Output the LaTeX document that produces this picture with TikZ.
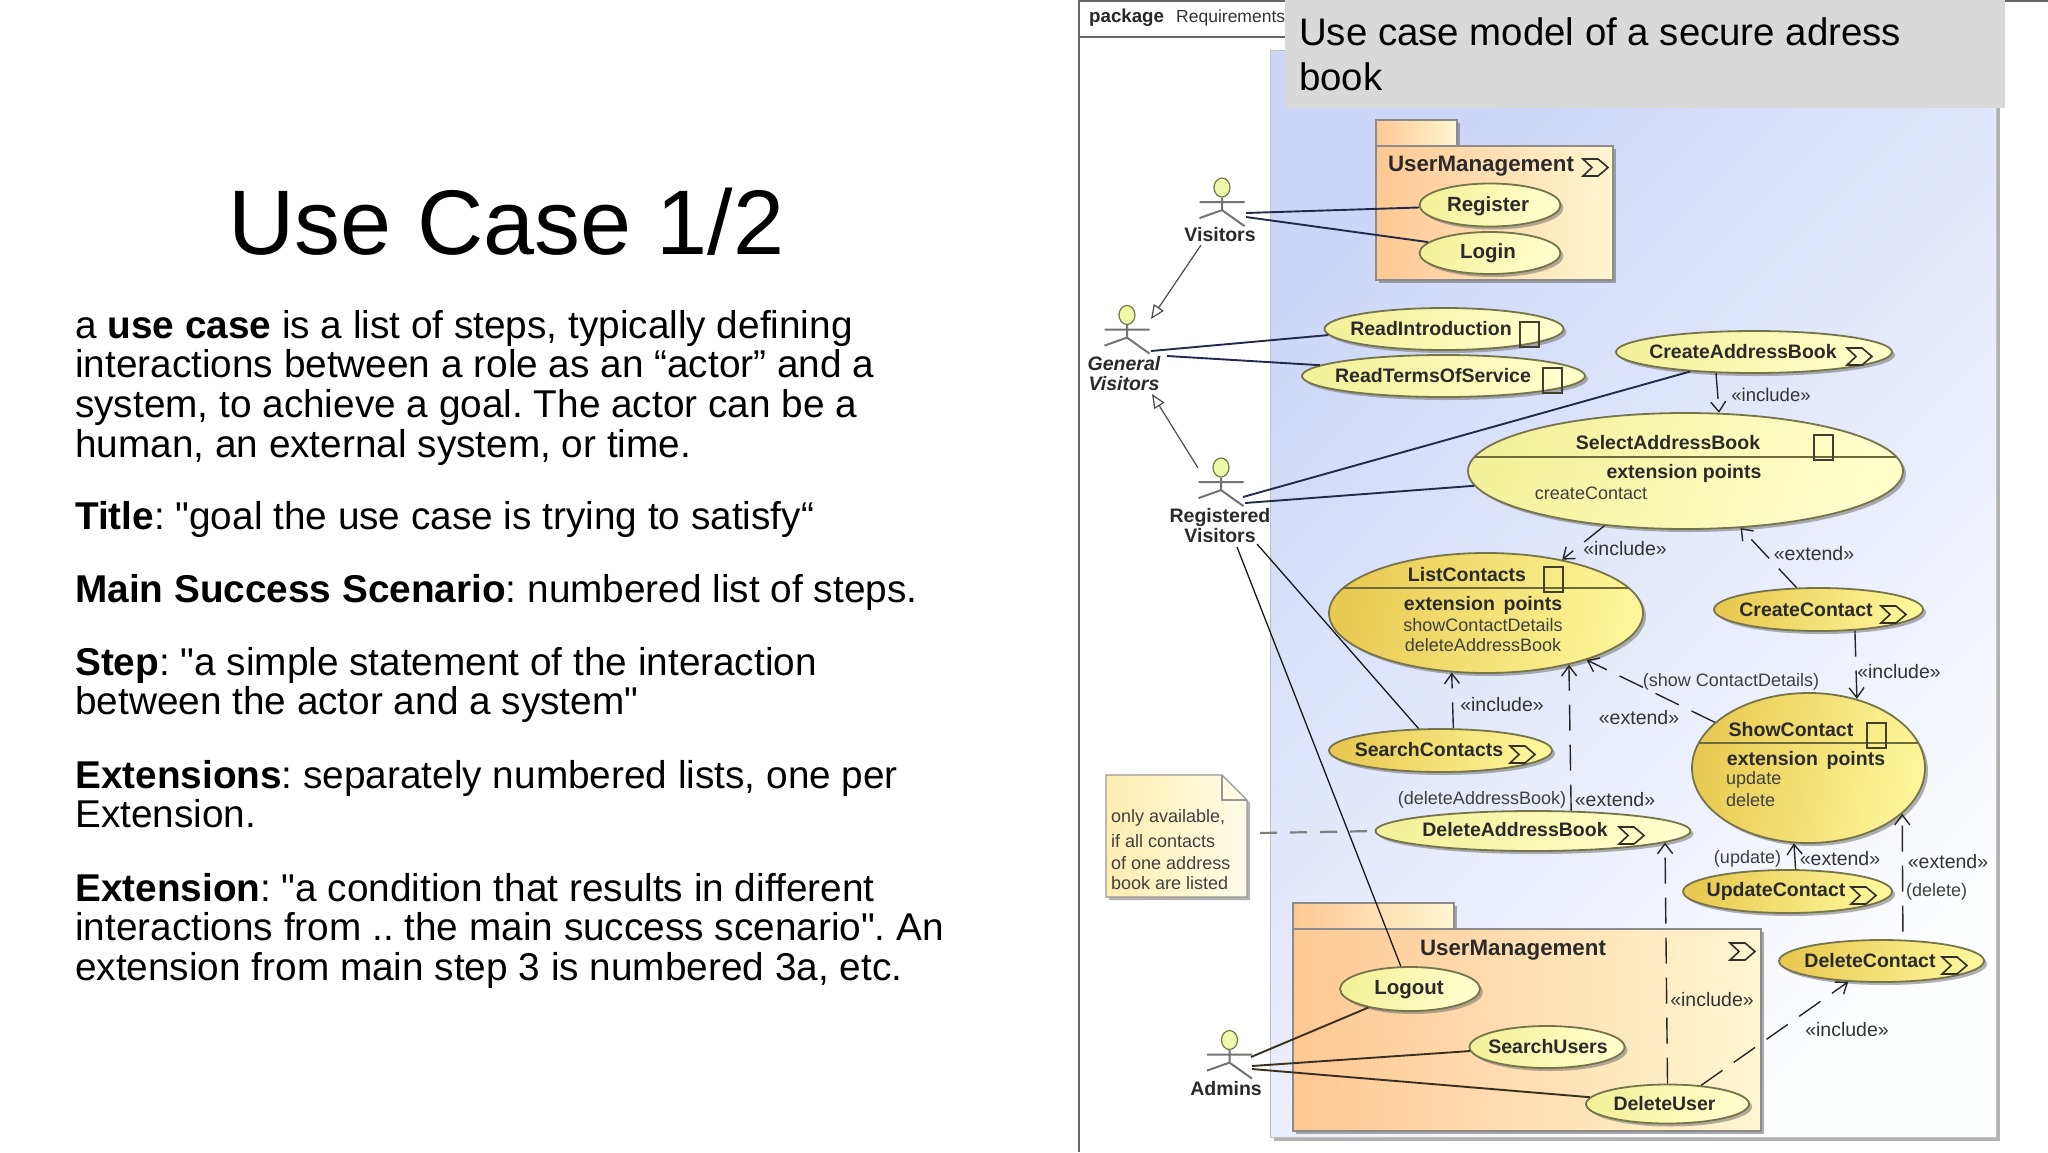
\documentclass[tikz,border=0pt]{standalone}
\usepackage{fontspec}
\setmainfont{Liberation Sans}[Ligatures=TeXOff]
\usetikzlibrary{shapes.geometric,arrows.meta,shadows}
\newcommand{\fs}[1]{\fontsize{#1}{#1}\selectfont}
\definecolor{lineblue}{HTML}{232B4A}
\definecolor{linebrown}{HTML}{3A3020}
\definecolor{inkgray}{HTML}{2A2A2A}
\definecolor{paleL}{HTML}{F3F29C}
\definecolor{paleR}{HTML}{FFFFCC}
\definecolor{goldL}{HTML}{E8CA52}
\definecolor{goldR}{HTML}{FFF79A}
\definecolor{edge}{HTML}{75744A}
\definecolor{divider}{HTML}{6E6B3A}
\definecolor{sysL}{HTML}{CDD6F8}
\definecolor{sysR}{HTML}{FCFDFF}
\definecolor{pkgL}{HTML}{FFC893}
\definecolor{pkgR}{HTML}{FFF6D2}
\definecolor{noteL}{HTML}{FFEDB0}
\definecolor{noteR}{HTML}{FFFDE8}
\newcommand{\chev}[2]{\draw[chevron] (#1,#2) -- ++(15,0) -- ++(10,8.5) -- ++(-10,8.5) -- ++(-15,0) -- ++(9,-8.5) -- cycle;}
\newcommand{\rectic}[2]{\draw[boxic] (#1,#2) rectangle ++(19,25);}
\newcommand{\actor}[3]{%
  \node[head] (#1) at (#2,#3) {};
  \draw[stick] (#1.south) -- ++(0,12.5) ++(-22.5,-8) -- ++(45,0) ++(-45,16) -- ++(22.5,-8) -- ++(22.5,16);}
\tikzset{
  x=1pt,y=-1pt,
  head/.style={ellipse,draw=edge,line width=1.2pt,fill=paleL!70!lime!60!white,minimum width=16pt,minimum height=19pt,inner sep=0pt},
  stick/.style={draw=black!55,line width=2pt},
  uc/.style={ellipse,draw=edge,line width=1.8pt,inner sep=0pt,left color=paleL,right color=paleR,shading angle=70,
    drop shadow={shadow xshift=3pt,shadow yshift=-3pt,fill=black!55,opacity=.55}},
  ucgold/.style={ellipse,draw=edge,line width=1.8pt,inner sep=0pt,left color=goldL,right color=goldR,shading angle=80,
    drop shadow={shadow xshift=3pt,shadow yshift=-3pt,fill=black!55,opacity=.55}},
  lab/.style={font=\fs{19.5}\bfseries,text=inkgray,inner sep=0pt},
  tag/.style={font=\fs{19.5},text=black!80,inner sep=0pt},
  small/.style={font=\fs{18},text=black!75,inner sep=0pt},
  chevron/.style={draw=black!85!olive,line width=1.6pt},
  boxic/.style={draw=black!70!olive,line width=1.5pt},
  assoc/.style={draw=lineblue,line width=1.9pt},
  assocb/.style={draw=linebrown,line width=1.9pt},
  thinline/.style={draw=black!90,line width=1.3pt},
  gen/.style={draw=black!70,line width=1.2pt,-{Triangle[open,fill=white,length=14pt,width=12pt]}},
  dep/.style={draw=black!85,line width=1.4pt,dash pattern=on 26pt off 14pt,-{Straight Barb[length=10pt,width=15pt]}},
  pkg/.style={draw=black!45,line width=1.5pt,left color=pkgL,right color=pkgR,
    drop shadow={shadow xshift=3pt,shadow yshift=-3pt,fill=black!60,opacity=.55}},
  divline/.style={draw=divider,line width=1.5pt},
  body/.style={font=\fontsize{38.75}{39.7}\selectfont\frenchspacing,align=left,anchor=north west,inner sep=0pt},
}
\begin{document}
\begin{tikzpicture}
\useasboundingbox (0,0) rectangle (2048,1152);
\fill[white] (0,0) rectangle (2048,1152);

% left column
\node[font=\fs{91.8},inner sep=0pt] (title) at (506.5,222) {Use Case 1/2};
\node[body] (p1) at (75,310) {a \textbf{use case} is a list of steps, typically defining\\interactions between a role as an “actor” and a\\system, to achieve a goal. The actor can be a\\human, an external system, or time.};
\node[body] (p2) at (75,501) {\textbf{Title}: "goal the use case is trying to satisfy“};
\node[body] (p3) at (75,574) {\textbf{Main Success Scenario}: numbered list of steps.};
\node[body] (p4) at (75,647) {\textbf{Step}: "a simple statement of the interaction\\between the actor and a system"};
\node[body] (p5) at (75,760) {\textbf{Extensions}: separately numbered lists, one per\\Extension.};
\node[body] (p6) at (75,873) {\textbf{Extension}: "a condition that results in different\\interactions from .. the main success scenario". An\\extension from main step 3 is numbered 3a, etc.};

% frame
\draw[black!60,line width=1.6pt] (1079,1152) -- (1079,1) -- (2048,1);
\draw[black!60,line width=2pt] (1079,37) -- (1285,37);
\node[font=\fs{18.7}\bfseries,text=black!85,anchor=west,inner sep=0pt] (pk1) at (1089,18) {package};
\node[font=\fs{17.5},text=black!80,anchor=west,inner sep=0pt] (pk2) at (1176,18) {Requirements};

% system boundary
\shade[left color=sysL,right color=sysR,shading angle=45,
  drop shadow={shadow xshift=4pt,shadow yshift=-4pt,fill=black!60,opacity=.5},draw=black!25,line width=1pt]
  (1270,50) rectangle (1996,1137);

% packages
\draw[pkg] (1376,120) rectangle (1457,146);
\draw[pkg] (1376,146) rectangle (1613,280);
\node[font=\fs{22.3}\bfseries,text=inkgray,inner sep=0pt] (pk3) at (1481,166) {UserManagement};
\chev{1583}{159}
\draw[pkg] (1293,903) rectangle (1454,929);
\draw[pkg] (1293,929) rectangle (1761,1131);
\node[font=\fs{22.3}\bfseries,text=inkgray,inner sep=0pt] (pk4) at (1513,950) {UserManagement};
\chev{1730}{943}

% note
\draw[draw=black!40,line width=1.3pt,left color=noteL,right color=noteR,
  drop shadow={shadow xshift=3pt,shadow yshift=-3pt,fill=black!60,opacity=.5}]
  (1106,775) -- (1222,775) -- (1247,800) -- (1247,897) -- (1106,897) -- cycle;
\draw[draw=black!40,line width=1.3pt] (1222,775) -- (1222,800) -- (1247,800);
\node[small,anchor=west] (n1) at (1111,818) {only available,};
\node[small,anchor=west] (n2) at (1111,841) {if all contacts};
\node[small,anchor=west] (n3) at (1111,863) {of one address};
\node[small,anchor=west] (n4) at (1111,883) {book are listed};
\coordinate (noteport) at (1260,833);

% use cases
\node[uc,minimum width=141pt,minimum height=43pt] (reg) at (1490,205) {};
\node[font=\fs{20.5}\bfseries,text=inkgray,inner sep=0pt] (regt) at (1488,206) {Register};
\node[uc,minimum width=141pt,minimum height=42pt] (log) at (1490,253) {};
\node[font=\fs{20.5}\bfseries,text=inkgray,inner sep=0pt] (logt) at (1488,253) {Login};
\node[uc,minimum width=239pt,minimum height=42pt] (ri) at (1444,329) {};
\node[lab] (rit) at (1431,329) {ReadIntroduction};
\rectic{1520}{322}
\node[uc,minimum width=283pt,minimum height=42pt] (rt) at (1443.5,376) {};
\node[lab] (rtt) at (1433,376) {ReadTermsOfService};
\rectic{1543}{368}
\node[uc,minimum width=276pt,minimum height=42pt] (cab) at (1754,352) {};
\node[lab] (cabt) at (1743,352) {CreateAddressBook};
\chev{1847}{348}

\node[uc,minimum width=435pt,minimum height=116pt] (sel) at (1685.5,471) {};
\draw[divline] (1475,457) -- (1896,457);
\node[lab] (selt) at (1668,443) {SelectAddressBook};
\node[lab] (sele) at (1684,473) {extension points};
\node[small] (selc) at (1591,493) {createContact};
\rectic{1814}{435}

\node[ucgold,minimum width=314pt,minimum height=120pt] (lc) at (1486,613) {};
\draw[divline] (1343,588) -- (1629,588);
\node[lab] (lct) at (1467,575) {ListContacts};
\node[lab] (lce) at (1483,605) {extension\, points};
\node[small] (lcs) at (1483,625) {showContactDetails};
\node[small] (lcd) at (1483,645) {deleteAddressBook};
\rectic{1544}{567}

\node[ucgold,minimum width=209pt,minimum height=43pt] (cc) at (1818.5,609.5) {};
\node[lab] (cct) at (1806,610) {CreateContact};
\chev{1881}{606}

\node[ucgold,minimum width=233pt,minimum height=150pt] (sc) at (1808.5,768) {};
\draw[divline] (1699,743) -- (1918,743);
\node[lab] (sct) at (1791,730) {ShowContact};
\node[lab] (sce) at (1806,760) {extension\, points};
\node[small,anchor=west] (scu) at (1726,780) {update};
\node[small,anchor=west] (scd) at (1726,800) {delete};
\rectic{1867}{723}

\node[ucgold,minimum width=223pt,minimum height=43pt] (sea) at (1440.5,750.5) {};
\node[lab] (seat) at (1429,750) {SearchContacts};
\chev{1510}{746}

\node[uc,minimum width=315pt,minimum height=40pt] (dab) at (1533,831) {};
\node[lab] (dabt) at (1515,830) {DeleteAddressBook};
\chev{1619}{827}

\node[ucgold,minimum width=209pt,minimum height=43pt] (up) at (1787.5,891.5) {};
\node[lab] (upt) at (1776,891) {UpdateContact};
\chev{1851}{887}

\node[ucgold,minimum width=205pt,minimum height=42pt] (dc) at (1881.5,961) {};
\node[lab] (dct) at (1870,961) {DeleteContact};
\chev{1942}{957}

\node[uc,minimum width=140pt,minimum height=44pt] (lo) at (1410,989) {};
\node[font=\fs{20.5}\bfseries,text=inkgray,inner sep=0pt] (lot) at (1409,990) {Logout};
\node[uc,minimum width=155pt,minimum height=42pt] (su) at (1547,1047) {};
\node[lab] (sut) at (1548,1047) {SearchUsers};
\node[uc,minimum width=163pt,minimum height=39pt] (du) at (1667.5,1104) {};
\node[lab] (dut) at (1664.5,1104) {DeleteUser};

% actors
\actor{vis}{1222}{187.5}
\node[lab] (vist) at (1220,235) {Visitors};
\actor{gv}{1127}{315}
\node[font=\fs{19.5}\bfseries\itshape,text=inkgray,inner sep=0pt] (gvt1) at (1124,364) {General};
\node[font=\fs{19.5}\bfseries\itshape,text=inkgray,inner sep=0pt] (gvt2) at (1124,384) {Visitors};
\actor{rv}{1221}{467.5}
\node[lab] (rvt1) at (1220,517) {Registered};
\node[lab] (rvt2) at (1220,536) {Visitors};
\actor{ad}{1229.5}{1040}
\node[lab] (adt) at (1226,1089) {Admins};

\coordinate (vis1) at (1246,213);
\coordinate (vis2) at (1246,217);
\coordinate (visg) at (1201,245);
\coordinate (gv1) at (1151,351);
\coordinate (gv2) at (1167,356);
\coordinate (gvtip1) at (1151,319);
\coordinate (gvtip2) at (1152,394);
\coordinate (rv1) at (1243,497);
\coordinate (rv2) at (1245,503);
\coordinate (rvg) at (1198,468);
\coordinate (rv3) at (1257,544);
\coordinate (rv4) at (1237,547);
\coordinate (ad1) at (1251,1057);
\coordinate (ad2) at (1252,1066);
\coordinate (ad3) at (1252,1069);

% associations
\draw[assoc] (vis1) -- (reg.182);
\draw[assoc] (vis2) -- (log.170);
\draw[assoc] (gv1) -- (ri.183.5);
\draw[assoc] (gv2) -- (rt.175.6);
\draw[assoc] (rv1) -- (cab.197);
\draw[assoc] (rv2) -- (sel.184);
\draw[thinline] (rv3) -- (sea.135);
\draw[thinline] (rv4) -- (lo.112);
\draw[assocb] (ad1) -- (lo.204);
\draw[assocb] (ad2) -- (su.183);
\draw[assocb] (ad3) -- (du.175.6);
\draw[gen] (visg) -- (gvtip1);
\draw[gen] (rvg) -- (gvtip2);

% dependencies
\draw[dep] (cab.209) -- (sel.60.9);
\node[tag,font=\fs{18.5}] (t1) at (1771,395) {«include»};
\draw[dep] (sel.214.7) -- (lc.35.6);
\node[tag] (t2) at (1625,549) {«include»};
\draw[dep] (cc.135) -- (sel.314);
\node[tag] (t3) at (1814,554) {«extend»};
\draw[dep] (cc.330) -- (sc.55);
\node[tag] (t4) at (1899,672) {«include»};
\draw[dep] (sc.154) -- (lc.335);
\node[small] (t5) at (1731,682) {(show ContactDetails)};
\node[tag] (t6) at (1639,718) {«extend»};
\draw[dep] (sea.60) -- (lc.240.6);
\node[tag] (t7) at (1502,705) {«include»};
\draw[dep] (dab.28.4) -- (lc.328.5);
\node[small] (t8) at (1482,800) {(deleteAddressBook)};
\node[tag] (t9) at (1615,800) {«extend»};
\draw[dep] (up.70.7) -- (sc.259.7);
\node[small] (t10) at (1747.5,859) {(update)};
\node[tag] (t11) at (1840,859) {«extend»};
\draw[dep,shorten <=8pt] (dc.45.8) -- (sc.334.1);
\node[tag] (t12) at (1948,862) {«extend»};
\node[small] (t13) at (1936.5,892) {(delete)};
\draw[dep] (du.90) -- (dab.355.6);
\node[tag] (t14) at (1712,1000) {«include»};
\draw[dep] (du.29.7) -- (dc.212.4);
\node[tag] (t15) at (1847,1030) {«include»};
\draw[draw=black!50,line width=2.2pt,dash pattern=on 17pt off 13pt] (noteport) -- (dab.180);

% caption
\fill[black!15] (1285,0) rectangle (2005,108);
\node[font=\fontsize{38.4}{45}\selectfont,align=left,anchor=north west,inner sep=0pt] (cap) at (1299,17) {Use case model of a secure adress\\book};
\end{tikzpicture}
\end{document}
